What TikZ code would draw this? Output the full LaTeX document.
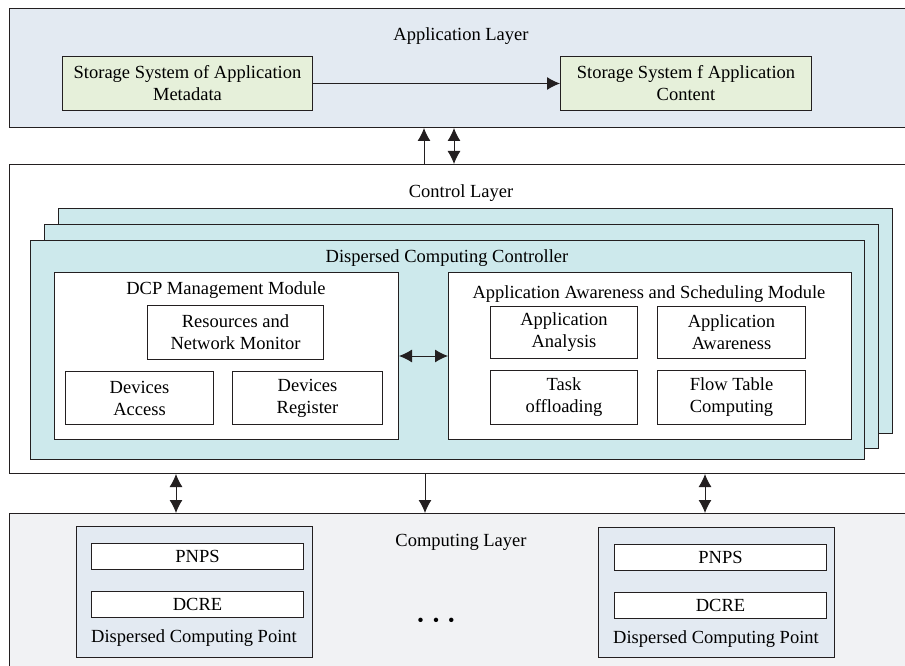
\documentclass[tikz,border=0pt]{standalone}
\usepackage{fontspec}
\setmainfont{Liberation Serif}
\usetikzlibrary{arrows.meta}
\definecolor{linec}{HTML}{231F20}
\definecolor{appfill}{HTML}{E3EAF2}
\definecolor{greenfill}{HTML}{E6F0DA}
\definecolor{cyanfill}{HTML}{CDE9EC}
\definecolor{compfill}{HTML}{F1F2F4}
\tikzset{
  box/.style={draw=linec, line width=1pt, inner sep=0pt, anchor=north west,
              align=center, font=\fontsize{18.5}{22}\selectfont},
  label/.style={font=\fontsize{18.5}{22}\selectfont, inner sep=0pt},
  conn/.style={draw=linec, line width=1pt},
  tip/.tip={Latex[length=13pt,width=13pt]},
  one/.style={conn, -tip},
  two/.style={conn, tip-tip}
}
\begin{document}
\begin{tikzpicture}[x=1pt,y=-1pt]
\clip (0,0) rectangle (905,666);
\fill[white] (0,0) rectangle (905,666);

% application layer
\node[box, fill=appfill, minimum width=900pt, minimum height=119pt] (applayer) at (9,8) {};
\node[label] (apptitle) at (461,36) {Application Layer};
\node[box, fill=greenfill, minimum width=250pt, minimum height=54pt] (meta) at (62,56)
  {Storage System of Application\\Metadata};
\node[box, fill=greenfill, minimum width=251pt, minimum height=54pt] (content) at (560,56)
  {Storage System f Application\\Content};
\draw[one] (meta.east) -- (content.west);

% control layer
\node[box, fill=white, minimum width=900pt, minimum height=309pt] (control) at (9,164) {};
\node[label] (ctltitle) at (461,193) {Control Layer};
\node[box, fill=cyanfill, minimum width=834pt, minimum height=225pt] (back) at (58,208) {};
\node[box, fill=cyanfill, minimum width=834pt, minimum height=224pt] (mid) at (44,224) {};
\node[box, fill=cyanfill, minimum width=834pt, minimum height=219pt] (front) at (30,240) {};
\node[label] (dcctitle) at (447,258) {Dispersed Computing Controller};

\node[box, fill=white, minimum width=344pt, minimum height=167pt] (dcpm) at (54,272) {};
\node[label] (dcpmtitle) at (226,290) {DCP Management Module};
\node[box, fill=white, minimum width=176pt, minimum height=54pt] (rnm) at (147,305)
  {Resources and\\Network Monitor};
\node[box, fill=white, minimum width=148pt, minimum height=53pt] (dacc) at (65,371)
  {Devices\\Access};
\node[box, fill=white, minimum width=150pt, minimum height=53pt] (dreg) at (232,371)
  {Devices\\Register};

\node[box, fill=white, minimum width=403pt, minimum height=167pt] (aasm) at (448,272) {};
\node[label] (aasmtitle) at (649,294) {Application Awareness and Scheduling Module};
\node[box, fill=white, minimum width=147pt, minimum height=52pt] (aan) at (490,306)
  {Application\\Analysis};
\node[box, fill=white, minimum width=148pt, minimum height=52pt] (aaw) at (657,306)
  {Application\\Awareness};
\node[box, fill=white, minimum width=147pt, minimum height=54pt] (task) at (490,370)
  {Task\\offloading};
\node[box, fill=white, minimum width=148pt, minimum height=54pt] (flow) at (657,370)
  {Flow Table\\Computing};

\coordinate (hy) at (0,356);
\draw[two] (dcpm.east |- hy) -- (aasm.west |- hy);

% links between application and control layers
\coordinate (ux1) at (424,0);
\coordinate (ux2) at (454,0);
\draw[one] (control.north -| ux1) -- (applayer.south -| ux1);
\draw[two] (control.north -| ux2) -- (applayer.south -| ux2);

% computing layer
\node[box, fill=compfill, minimum width=900pt, minimum height=160pt] (computing) at (9,513) {};
\node[label] (comptitle) at (461,542) {Computing Layer};

\node[box, fill=appfill, minimum width=236pt, minimum height=131pt] (dcpa) at (76,526) {};
\node[box, fill=white, minimum width=212pt, minimum height=26pt] (pnpsa) at (91,543) {PNPS};
\node[box, fill=white, minimum width=212pt, minimum height=26pt] (dcrea) at (91,591) {DCRE};
\node[label] (dcpalabel) at (194,638) {Dispersed Computing Point};

\node[box, fill=appfill, minimum width=236pt, minimum height=130pt] (dcpb) at (598,527) {};
\node[box, fill=white, minimum width=212pt, minimum height=26pt] (pnpsb) at (614,544) {PNPS};
\node[box, fill=white, minimum width=212pt, minimum height=26pt] (dcreb) at (614,592) {DCRE};
\node[label] (dcpblabel) at (716,639) {Dispersed Computing Point};

\node[label] (dots) at (436,622) {\textbullet\hspace{9pt}\textbullet\hspace{9pt}\textbullet};

% links between control and computing layers
\coordinate (dx1) at (176,0);
\coordinate (dx2) at (425,0);
\coordinate (dx3) at (705,0);
\draw[two] (control.south -| dx1) -- (computing.north -| dx1);
\draw[one] (control.south -| dx2) -- (computing.north -| dx2);
\draw[two] (control.south -| dx3) -- (computing.north -| dx3);
\end{tikzpicture}
\end{document}
